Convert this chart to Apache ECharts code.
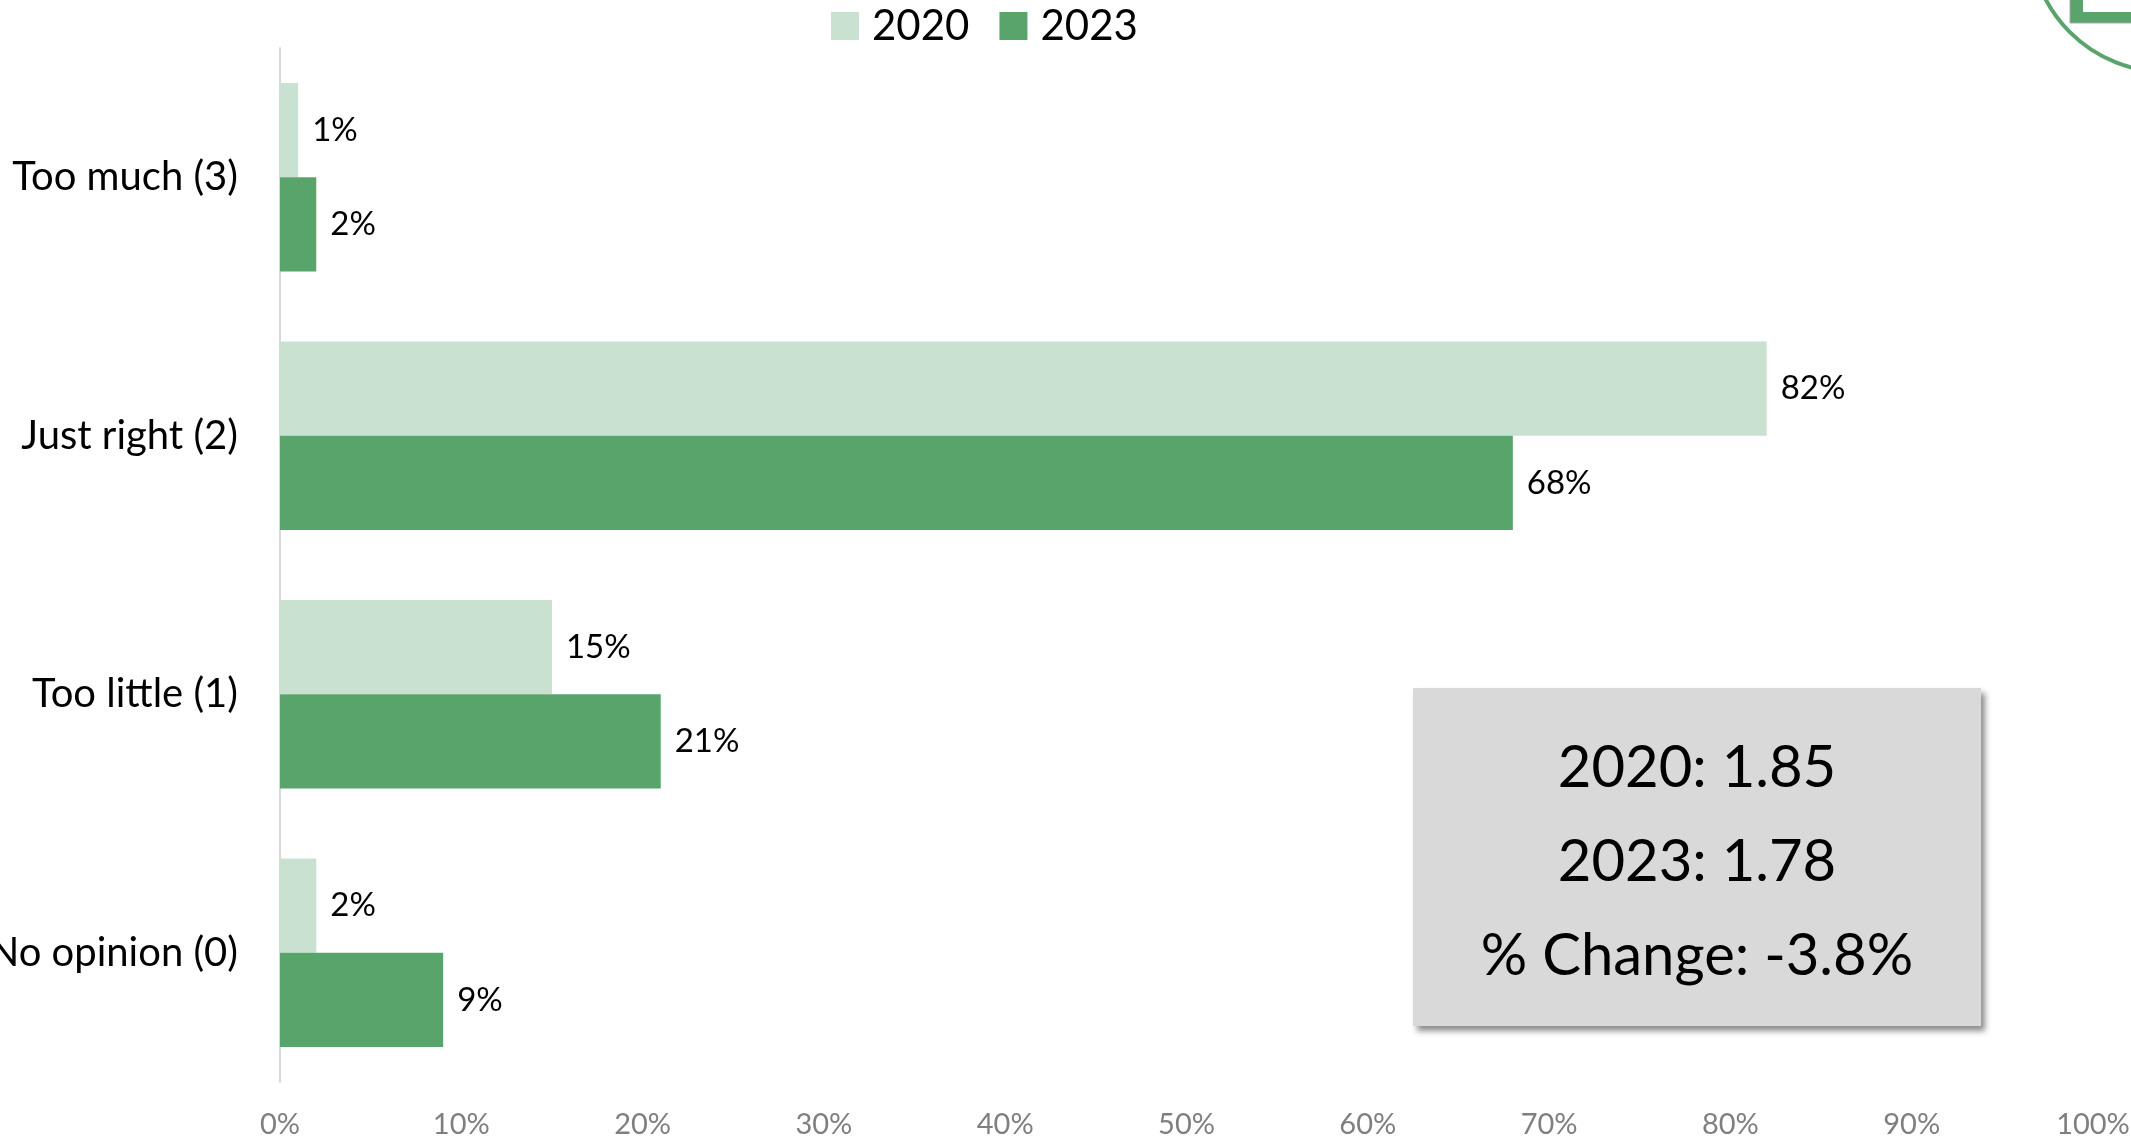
<!DOCTYPE html>
<html>
<head>
<meta charset="utf-8">
<script src="https://cdn.jsdelivr.net/npm/echarts@6/dist/echarts.min.js"></script>
<style>
  html, body { margin: 0; padding: 0; background: #fff; }
  #chart { width: 2131px; height: 1137px; }
</style>
</head>
<body>
<div id="chart"></div>
<script>
const categories = ["Too much (3)", "Just right (2)", "Too little (1)", "No opinion (0)"]
const values2020 = [1, 82, 15, 2]
const values2023 = [2, 68, 21, 9]
const seriesNames = ["2020", "2023"]
const summaryLines = ["2020: 1.85", "2023: 1.78", "% Change: -3.8%"]

const FONT = "Lato"
const LIGHT = "#c9e1d1"
const DARK = "#59a46b"

const chart = echarts.init(document.getElementById("chart"))

const labelStyle = {
  show: true,
  position: "right",
  distance: 14,
  formatter: "{c}%",
  color: "#000",
  fontFamily: FONT,
  fontSize: 33
}

const option = {
  animation: false,
  legend: {
    top: 0,
    left: 826,
    itemWidth: 28,
    itemHeight: 28,
    itemGap: 30,
    icon: "rect",
    textStyle: { fontFamily: FONT, fontSize: 42, color: "#000", padding: [0, 0, 0, 8] },
    data: seriesNames
  },
  grid: { left: 280, right: 38, top: 48, bottom: 55, outerBoundsMode: "none", containLabel: false },
  xAxis: {
    type: "value",
    min: 0,
    max: 100,
    interval: 10,
    axisLine: { show: false },
    axisTick: { show: false },
    splitLine: { show: false },
    axisLabel: { formatter: "{value}%", color: "#7f7f7f", fontFamily: FONT, fontSize: 29, margin: 28 }
  },
  yAxis: {
    type: "category",
    inverse: true,
    data: categories,
    axisLine: { lineStyle: { color: "#d9d9d9", width: 2 } },
    axisTick: { show: false },
    axisLabel: { color: "#000", fontFamily: FONT, fontSize: 40, margin: 42 }
  },
  series: [
    {
      name: seriesNames[0],
      type: "bar",
      data: values2020,
      barGap: "0%",
      barCategoryGap: "27%",
      itemStyle: { color: LIGHT },
      label: labelStyle
    },
    {
      name: seriesNames[1],
      type: "bar",
      data: values2023,
      barGap: "0%",
      barCategoryGap: "27%",
      itemStyle: { color: DARK },
      label: labelStyle
    }
  ],
  graphic: [
    {
      type: "rect",
      shape: { x: 1413, y: 688, width: 568, height: 338 },
      style: {
        fill: "#d9d9d9",
        shadowBlur: 6,
        shadowOffsetX: 4,
        shadowOffsetY: 5,
        shadowColor: "rgba(0,0,0,0.45)"
      }
    },
    ...summaryLines.map((t, i) => ({
      type: "text",
      x: 1697,
      y: 768 + i * 94,
      style: {
        text: t,
        fontFamily: FONT,
        fontSize: 58,
        fill: "#000",
        align: "center",
        verticalAlign: "middle"
      }
    })),
    {
      type: "circle",
      shape: { cx: 2166, cy: -64, r: 136 },
      style: { fill: "#fff", stroke: DARK, lineWidth: 4 }
    },
    {
      type: "rect",
      shape: { x: 2070, y: -60, width: 200, height: 83 },
      style: { fill: DARK, stroke: "#aaa", lineWidth: 1 }
    },
    {
      type: "rect",
      shape: { x: 2083, y: -60, width: 200, height: 72 },
      style: { fill: "#fff" }
    }
  ]
}

chart.setOption(option)
</script>
</body>
</html>
